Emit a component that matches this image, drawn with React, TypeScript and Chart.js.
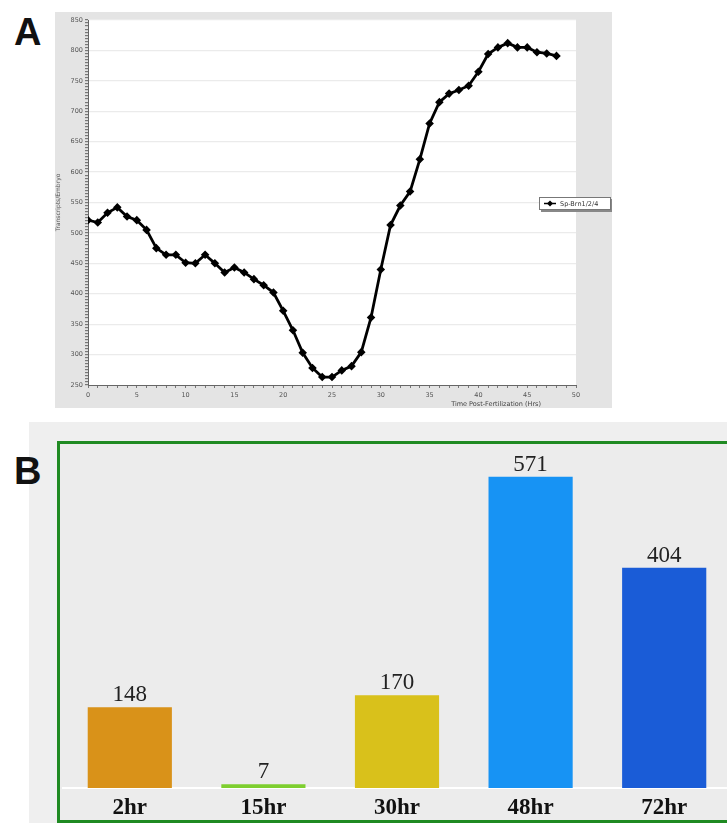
import React, { useEffect, useRef } from 'react';
import { Chart, registerables } from 'chart.js';

Chart.register(...registerables);

// ---------- Panel A data ----------
const hours = [0, 1, 2, 3, 4, 5, 6, 7, 8, 9, 10, 11, 12, 13, 14, 15, 16, 17, 18, 19, 20, 21, 22, 23, 24, 25, 26, 27, 28, 29, 30, 31, 32, 33, 34, 35, 36, 37, 38, 39, 40, 41, 42, 43, 44, 45, 46, 47, 48];
const transcripts = [521, 517, 533, 542, 527, 521, 505, 475, 464, 464, 451, 450, 464, 450, 435, 443, 435, 424, 414, 402, 372, 340, 303, 278, 263, 263, 274, 281, 304, 361, 440, 513, 545, 568, 621, 680, 715, 729, 735, 742, 765, 794, 805, 812, 805, 805, 797, 795, 791];
const seriesName = 'Sp-Brn1/2/4';
const yTickLabels = ['250', '300', '350', '400', '450', '500', '550', '600', '650', '700', '750', '800', '850'];
const xTickLabels = ['0', '5', '10', '15', '20', '25', '30', '35', '40', '45', '50'];
const xTitle = 'Time Post-Fertilization (Hrs)';
const yTitle = 'Transcripts/Embryo';

// ---------- Panel B data ----------
const barCategories = ['2hr', '15hr', '30hr', '48hr', '72hr'];
const barValues = [148, 7, 170, 571, 404];
const barColors = ['#d99219', '#7ecf2f', '#d9c11b', '#1793f4', '#1a5cd7'];

const smallFont = 'DejaVu Sans';

function ChartA() {
  const ref = useRef<HTMLCanvasElement | null>(null);
  useEffect(() => {
    if (!ref.current) return;
    const yMinor: number[] = [];
    for (let v = 250; v <= 850; v += 5) yMinor.push(v);
    const xMinor: number[] = [];
    for (let v = 0; v <= 50; v += 1) xMinor.push(v);

    const whiteArea = {
      id: 'whiteArea',
      beforeDraw(chart: any) {
        const { ctx, chartArea } = chart;
        ctx.save();
        ctx.fillStyle = '#ffffff';
        ctx.fillRect(chartArea.left, chartArea.top, chartArea.right - chartArea.left, chartArea.bottom - chartArea.top);
        ctx.restore();
      },
    };
    const extras = {
      id: 'extras',
      afterDraw(chart: any) {
        const { ctx, chartArea } = chart;
        ctx.save();
        // x axis title
        ctx.font = `6.5px "${smallFont}"`;
        ctx.fillStyle = '#444';
        ctx.textAlign = 'right';
        ctx.textBaseline = 'middle';
        ctx.fillText(xTitle, chartArea.right - 35, chartArea.bottom + 19);
        // legend
        const lx = chartArea.right - 37;
        const ly = chartArea.top + 177;
        const lw = 72;
        const lh = 13;
        ctx.fillStyle = '#888';
        ctx.fillRect(lx + 2, ly + 2, lw, lh);
        ctx.fillStyle = '#ffffff';
        ctx.fillRect(lx, ly, lw, lh);
        ctx.strokeStyle = '#777';
        ctx.lineWidth = 1;
        ctx.strokeRect(lx + 0.5, ly + 0.5, lw - 1, lh - 1);
        const my = ly + lh / 2;
        ctx.strokeStyle = '#000';
        ctx.lineWidth = 1.5;
        ctx.beginPath();
        ctx.moveTo(lx + 5, my);
        ctx.lineTo(lx + 17, my);
        ctx.stroke();
        ctx.fillStyle = '#000';
        ctx.beginPath();
        ctx.moveTo(lx + 11, my - 3);
        ctx.lineTo(lx + 14, my);
        ctx.lineTo(lx + 11, my + 3);
        ctx.lineTo(lx + 8, my);
        ctx.closePath();
        ctx.fill();
        ctx.fillStyle = '#333';
        ctx.textAlign = 'left';
        ctx.fillText(seriesName, lx + 21, my + 0.5);
        ctx.restore();
      },
    };

    const chart = new Chart(ref.current, {
      type: 'line',
      data: {
        datasets: [
          {
            label: seriesName,
            data: hours.map((h, i) => ({ x: h, y: transcripts[i] })),
            borderColor: '#000',
            borderWidth: 2.8,
            pointStyle: 'rectRot',
            pointRadius: 2.3,
            pointBackgroundColor: '#000',
            pointBorderColor: '#000',
            tension: 0,
          },
        ],
      },
      options: {
        responsive: false,
        animation: false,
        layout: { padding: { top: 8, right: 36, bottom: 0, left: 0 } },
        plugins: { legend: { display: false }, tooltip: { enabled: false } },
        scales: {
          x: {
            type: 'linear',
            min: 0,
            max: 50,
            afterBuildTicks: (s: any) => {
              s.ticks = xMinor.map((v) => ({ value: v }));
            },
            afterFit: (s: any) => {
              s.height = 23;
            },
            ticks: {
              autoSkip: false,
              maxRotation: 0,
              padding: 3,
              color: '#555',
              font: { size: 6.5, family: smallFont },
              callback: (v: any) => (xTickLabels.includes(String(v)) ? String(v) : ''),
            },
            grid: { drawOnChartArea: false, tickLength: 3, tickColor: '#777' },
            border: { color: '#666', width: 1 },
          },
          y: {
            min: 250,
            max: 850,
            afterBuildTicks: (s: any) => {
              s.ticks = yMinor.map((v) => ({ value: v }));
            },
            afterFit: (s: any) => {
              s.width = 33;
            },
            ticks: {
              autoSkip: false,
              padding: 2,
              color: '#555',
              font: { size: 6.5, family: smallFont },
              callback: (v: any) => (yTickLabels.includes(String(v)) ? String(v) : ''),
            },
            grid: {
              color: (ctx: any) =>
                ctx.tick && ctx.tick.value % 50 === 0 && ctx.tick.value !== 250 ? '#ebebeb' : 'rgba(0,0,0,0)',
              tickColor: '#777',
              tickLength: 3,
              lineWidth: 1.2,
            },
            border: { color: '#666', width: 1 },
            title: {
              display: true,
              text: yTitle,
              color: '#555',
              font: { size: 6, family: smallFont },
              padding: { top: 0, bottom: 1 },
            },
          },
        },
      },
      plugins: [whiteArea, extras],
    } as any);
    return () => chart.destroy();
  }, []);
  return (
    <canvas
      ref={ref}
      width={557}
      height={396}
      style={{ position: 'absolute', left: 55, top: 12, width: 557, height: 396, background: '#e4e4e4' }}
    />
  );
}

function ChartB() {
  const ref = useRef<HTMLCanvasElement | null>(null);
  useEffect(() => {
    if (!ref.current) return;
    const valueLabels = {
      id: 'valueLabels',
      afterDatasetsDraw(chart: any) {
        const { ctx } = chart;
        const meta = chart.getDatasetMeta(0);
        ctx.save();
        ctx.font = '23px "Liberation Serif"';
        ctx.fillStyle = '#222';
        ctx.textAlign = 'center';
        ctx.textBaseline = 'alphabetic';
        meta.data.forEach((bar: any, i: number) => {
          ctx.fillText(String(barValues[i]), bar.x, bar.y - 6);
        });
        ctx.restore();
      },
    };
    const chart = new Chart(ref.current, {
      type: 'bar',
      data: {
        labels: barCategories,
        datasets: [
          {
            data: barValues,
            backgroundColor: barColors,
            borderWidth: 0,
            barPercentage: 0.63,
            categoryPercentage: 1,
          },
        ],
      },
      options: {
        responsive: false,
        animation: false,
        layout: { padding: { top: 17, right: 9, bottom: 0, left: 3 } },
        plugins: { legend: { display: false }, tooltip: { enabled: false } },
        scales: {
          x: {
            afterFit: (s: any) => {
              s.height = 32;
            },
            grid: { display: false },
            border: { display: true, color: '#ffffff', width: 2 },
            ticks: {
              padding: -2,
              color: '#111',
              font: { size: 23, family: 'Liberation Serif', weight: 'bold' },
            },
          },
          y: { display: false, min: 0, max: 600 },
        },
      },
      plugins: [valueLabels],
    } as any);
    return () => chart.destroy();
  }, []);
  return (
    <canvas
      ref={ref}
      width={680}
      height={376}
      style={{ position: 'absolute', left: 60, top: 444, width: 680, height: 376 }}
    />
  );
}

export default function App() {
  const letter: React.CSSProperties = {
    position: 'absolute',
    fontFamily: '"Liberation Sans", Arial, sans-serif',
    fontWeight: 'bold',
    fontSize: 38,
    lineHeight: '38px',
    color: '#111',
  };
  return (
    <div
      style={{
        position: 'absolute',
        left: 0,
        top: 0,
        width: 727,
        height: 823,
        overflow: 'hidden',
        background: '#ffffff',
      }}
    >
      <div style={{ ...letter, left: 14, top: 13 }}>A</div>
      <ChartA />
      <div style={{ position: 'absolute', left: 29, top: 422, width: 698, height: 401, background: '#efefef' }} />
      <div
        style={{
          position: 'absolute',
          left: 57,
          top: 441,
          width: 720,
          height: 382,
          boxSizing: 'border-box',
          border: '3px solid #1f8a22',
          background: '#ececec',
        }}
      />
      <ChartB />
      <div style={{ ...letter, left: 14, top: 452 }}>B</div>
    </div>
  );
}
